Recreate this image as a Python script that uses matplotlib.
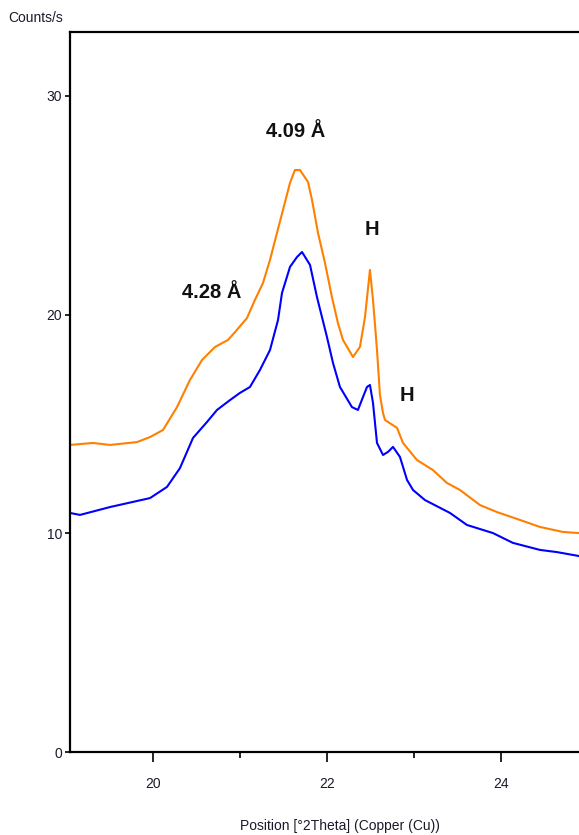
import matplotlib
matplotlib.use("Agg")
import matplotlib.pyplot as plt
from matplotlib.ticker import MultipleLocator

plt.rcParams['font.family'] = ['Liberation Sans', 'DejaVu Sans']

# orange pattern (upper)
x_orange = [19.046, 19.310, 19.506, 19.816, 19.966, 20.115, 20.276, 20.425, 20.563, 20.713,
            20.862, 20.943, 21.080, 21.172, 21.264, 21.345, 21.425, 21.494, 21.575, 21.632,
            21.690, 21.782, 21.828, 21.897, 21.977, 22.057, 22.126, 22.184, 22.299, 22.379,
            22.437, 22.494, 22.529, 22.575, 22.609, 22.644, 22.667, 22.805, 22.874, 23.034,
            23.218, 23.379, 23.529, 23.759, 23.954, 24.218, 24.448, 24.713, 24.897]
y_orange = [14.04, 14.13, 14.04, 14.17, 14.40, 14.72, 15.77, 17.01, 17.92, 18.52,
            18.84, 19.20, 19.84, 20.67, 21.44, 22.50, 23.73, 24.78, 26.02, 26.61,
            26.61, 26.06, 25.24, 23.73, 22.36, 20.80, 19.61, 18.84, 18.06, 18.52,
            19.89, 22.04, 20.67, 18.38, 16.32, 15.50, 15.18, 14.82, 14.13, 13.35,
            12.89, 12.30, 11.98, 11.29, 10.97, 10.61, 10.29, 10.06, 10.01]

# blue pattern (lower)
x_blue = [19.046, 19.161, 19.506, 19.966, 20.161, 20.310, 20.460, 20.621, 20.736, 20.885,
          21.000, 21.115, 21.230, 21.345, 21.437, 21.483, 21.575, 21.655, 21.713, 21.805,
          21.885, 22.000, 22.069, 22.149, 22.287, 22.356, 22.414, 22.460, 22.494, 22.529,
          22.575, 22.644, 22.701, 22.759, 22.839, 22.920, 22.989, 23.126, 23.414, 23.609,
          23.908, 24.138, 24.448, 24.644, 24.897]
y_blue = [10.93, 10.84, 11.20, 11.61, 12.12, 12.98, 14.36, 15.09, 15.64, 16.09,
          16.42, 16.69, 17.47, 18.38, 19.75, 20.99, 22.18, 22.63, 22.86, 22.27,
          20.80, 18.97, 17.79, 16.69, 15.77, 15.64, 16.23, 16.69, 16.78, 15.96,
          14.13, 13.58, 13.72, 13.95, 13.49, 12.44, 11.98, 11.52, 10.93, 10.38,
          10.01, 9.56, 9.24, 9.14, 8.96]

labels = ["4.09 Å", "4.28 Å", "H", "H"]
label_x = [21.64, 20.68, 22.52, 22.92]
label_y = [28.35, 20.99, 23.91, 16.28]

fig = plt.figure(figsize=(5.79, 8.35), dpi=100)
ax = fig.add_axes([70/579, 83/835, 509/579, 720/835])

ax.plot(x_orange, y_orange, color='#ff8000', lw=1.5)
ax.plot(x_blue, y_blue, color='#0000ff', lw=1.5)

for t, tx, ty in zip(labels, label_x, label_y):
    ax.text(tx, ty, t, ha='center', va='center', fontsize=14.5,
            fontweight='bold', color='#111111')

ax.set_xlim(19.046, 24.897)
ax.set_ylim(0, 32.92)
ax.xaxis.set_major_locator(MultipleLocator(2))
ax.xaxis.set_minor_locator(MultipleLocator(1))
ax.yaxis.set_major_locator(MultipleLocator(10))
ax.tick_params(axis='x', which='major', length=7, width=1.2, pad=11,
               labelsize=10, labelcolor='#1a1a2a')
ax.tick_params(axis='x', which='minor', length=4.5, width=1.2)
ax.tick_params(axis='y', length=3.8, width=1.2, pad=2,
               labelsize=10, labelcolor='#1a1a2a')

ax.spines['right'].set_visible(False)
for s in ['left', 'bottom', 'top']:
    ax.spines[s].set_linewidth(1.6)

fig.text(8/579, 1 - 18/835, "Counts/s", fontsize=10, va='center',
         ha='left', color='#1a1a2a')
fig.text(340/579, 1 - 826/835, "Position [°2Theta] (Copper (Cu))",
         fontsize=10, va='center', ha='center', color='#1a1a2a')

fig.savefig("out.png", dpi=100)
